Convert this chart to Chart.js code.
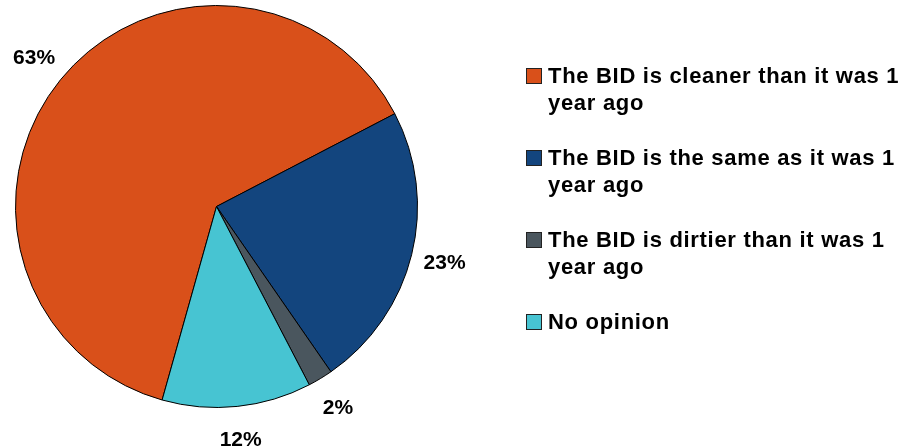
<!DOCTYPE html>
<html>
<head>
<meta charset="utf-8">
<script src="https://cdn.jsdelivr.net/npm/chart.js@4/dist/chart.umd.min.js"></script>
<style>
  html, body { margin: 0; padding: 0; background: #fff; overflow: hidden; }
  #wrap { position: relative; width: 904px; height: 448px; }
  #pie { position: absolute; left: 0; top: 0; }
  #legend {
    position: absolute; left: 526px; top: 62px; width: 380px;
    font: bold 22px "Liberation Sans", Arial, sans-serif; letter-spacing: 0.7px;
    color: #000;
  }
  .item { display: flex; align-items: flex-start; margin-bottom: 28px; }
  .box { width: 14px; height: 14px; border: 1px solid #222; margin: 6px 6px 0 0; flex: none; }
  .txt { width: 356px; line-height: 27px; }
</style>
</head>
<body>
<div id="wrap">
  <canvas id="pie" width="904" height="448"></canvas>
  <div id="legend"></div>
</div>
<script>
// survey: how clean is the BID compared to a year ago
const categories = [
  'The BID is cleaner than it was 1 year ago',
  'The BID is the same as it was 1 year ago',
  'The BID is dirtier than it was 1 year ago',
  'No opinion'
];
const shares = [63, 23, 2, 12];
const colors = ['#D9501A', '#13457E', '#4A565E', '#47C4D2'];

// percent labels just outside each slice
const outerLabels = {
  id: 'outerLabels',
  afterDatasetsDraw(chart) {
    const ctx = chart.ctx;
    const meta = chart.getDatasetMeta(0);
    ctx.save();
    ctx.font = 'bold 21px "Liberation Sans", Arial, sans-serif';
    ctx.fillStyle = '#000';
    ctx.textAlign = 'center';
    ctx.textBaseline = 'middle';
    meta.data.forEach((arc, i) => {
      const p = arc.getProps(['x', 'y', 'startAngle', 'endAngle', 'outerRadius'], true);
      const mid = (p.startAngle + p.endAngle) / 2;
      const r = p.outerRadius + 34;
      ctx.fillText(shares[i] + '%', p.x + Math.cos(mid) * r, p.y + Math.sin(mid) * r);
    });
    ctx.restore();
  }
};

new Chart(document.getElementById('pie'), {
  type: 'pie',
  data: {
    labels: categories,
    datasets: [{
      data: shares,
      backgroundColor: colors,
      borderColor: '#000',
      borderWidth: 1
    }]
  },
  options: {
    responsive: false,
    animation: false,
    rotation: 195.7,
    layout: { padding: { left: 15, top: 5, right: 486, bottom: 40 } },
    plugins: {
      legend: { display: false },
      tooltip: { enabled: false }
    }
  },
  plugins: [outerLabels]
});

// legend on the right
const legend = document.getElementById('legend');
categories.forEach((c, i) => {
  const item = document.createElement('div');
  item.className = 'item';
  item.innerHTML = `<span class="box" style="background:${colors[i]}"></span><span class="txt">${c}</span>`;
  legend.appendChild(item);
});
</script>
</body>
</html>
